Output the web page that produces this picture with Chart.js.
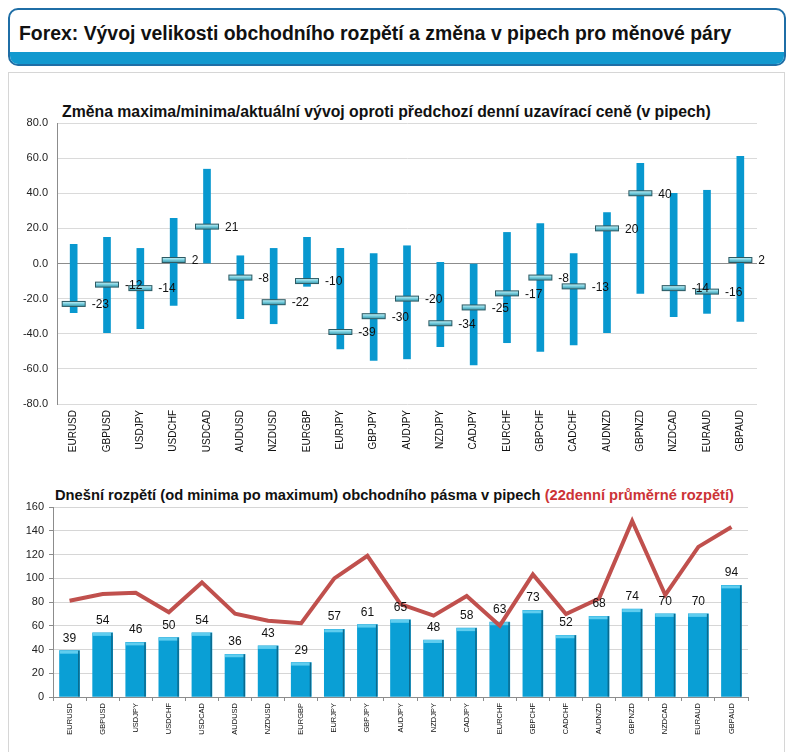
<!DOCTYPE html>
<html>
<head>
<meta charset="utf-8">
<script src="https://cdn.jsdelivr.net/npm/chart.js@4.4.1/dist/chart.umd.min.js"></script>
<style>
  body { margin: 0; width: 790px; height: 752px; background: #fff; position: relative; overflow: hidden; font-family: 'Liberation Sans', Arial, sans-serif; }
  #header { position: absolute; left: 8px; top: 8px; width: 774px; height: 54px; border: 2px solid #1f6ea6; border-radius: 10px; overflow: hidden; background: #fff; }
  #header .strip { position: absolute; left: 0; right: 0; bottom: 0; height: 12px; background: #1299cf; }
  #header h1 { position: absolute; left: 9px; top: 12px; margin: 0; font-size: 19.4px; font-weight: bold; color: #111; white-space: nowrap; }
  #panel { position: absolute; left: 8px; top: 72px; width: 775px; height: 700px; border: 1px solid #d6d6d6; border-bottom: none; }
  .title { position: absolute; font-weight: bold; color: #111; white-space: nowrap; }
  #t1 { left: 62px; top: 103px; font-size: 15.8px; }
  #t2 { left: 55px; top: 487px; font-size: 14.7px; }
  #t2 span { color: #cc3336; }
  canvas { position: absolute; left: 0; }
  #c1 { top: 100px; }
  #c2 { top: 480px; }
</style>
</head>
<body>
<div id="header"><h1>Forex: Vývoj velikosti obchodního rozpětí a změna v pipech pro měnové páry</h1><div class="strip"></div></div>
<div id="panel"></div>
<div class="title" id="t1">Změna maxima/minima/aktuální vývoj oproti předchozí denní uzavírací ceně (v pipech)</div>
<div class="title" id="t2">Dnešní rozpětí (od minima po maximum) obchodního pásma v pipech <span>(22denní průměrné rozpětí)</span></div>
<canvas id="c1" width="790" height="370"></canvas>
<canvas id="c2" width="790" height="272"></canvas>
<script>
// currency pairs
const pairs = ['EURUSD', 'GBPUSD', 'USDJPY', 'USDCHF', 'USDCAD', 'AUDUSD', 'NZDUSD', 'EURGBP', 'EURJPY', 'GBPJPY', 'AUDJPY',
    'NZDJPY', 'CADJPY', 'EURCHF', 'GBPCHF', 'CADCHF', 'AUDNZD', 'GBPNZD', 'NZDCAD', 'EURAUD', 'GBPAUD'];

// top chart: high / low / current vs previous close (pips)
const highs = [10.9, 14.9, 8.6, 25.7, 53.7, 4.4, 8.6, 14.9, 8.6, 5.7, 10.1, 0.6, 0, 17.7, 22.7, 5.7, 29, 57.1, 40, 41.7, 61];
const lows = [-28, -39.4, -37.1, -23.8, 0, -31.4, -34.3, -13, -48.6, -55.2, -54.3, -47.4, -57.7, -45.1, -50.1, -46.3, -39.4, -17, -30.3, -28.4, -33];
const current = [-23, -12, -14, 2, 21, -8, -22, -10, -39, -30, -20, -34, -25, -17, -8, -13, 20, 40, -14, -16, 2];
const topTicks = [-80, -60, -40, -20, 0, 20, 40, 60, 80];

// bottom chart: today's range and 22-day average range
const todayRange = [39, 54, 46, 50, 54, 36, 43, 29, 57, 61, 65, 48, 58, 63, 73, 52, 68, 74, 70, 70, 94];
const avgRange = [81, 86.7, 87.8, 71.3, 96.5, 70.2, 64.3, 62.1, 99.9, 118.9, 78.3, 68.5, 85, 60.1, 103.2, 69.9, 83, 148.3, 85.9, 126.4, 143.2];
const bottomTicks = [0, 20, 40, 60, 80, 100, 120, 140, 160];

const FONT = "'Liberation Sans', Arial, sans-serif";

// marker image for the current value
function makeMarker() {
    const c = document.createElement('canvas');
    c.width = 26; c.height = 8;
    const g = c.getContext('2d');
    const grad = g.createLinearGradient(0, 1, 0, 7);
    grad.addColorStop(0, '#e2f8fb');
    grad.addColorStop(0.45, '#7dd3e3');
    grad.addColorStop(1, '#2b8aa0');
    g.fillStyle = grad;
    g.fillRect(1, 1, 24, 6);
    g.strokeStyle = '#2d5a63';
    g.lineWidth = 1;
    g.strokeRect(1.5, 1.5, 23, 5);
    return c;
}

const closeLabels = {
    id: 'closeLabels',
    afterDatasetsDraw(chart) {
        const meta = chart.getDatasetMeta(1);
        const ctx = chart.ctx;
        ctx.save();
        ctx.font = '12px ' + FONT;
        ctx.fillStyle = '#111';
        ctx.textBaseline = 'middle';
        meta.data.forEach((pt, i) => {
            ctx.fillText(String(current[i]), pt.x + 18, pt.y + 1);
        });
        ctx.restore();
    }
};

new Chart(document.getElementById('c1'), {
    type: 'bar',
    data: {
        labels: pairs,
        datasets: [{
            data: lows.map((lo, i) => [lo, highs[i]]),
            backgroundColor: '#0898cf',
            barThickness: 7,
            order: 2
        }, {
            type: 'line',
            data: current,
            showLine: false,
            pointStyle: makeMarker(),
            pointRadius: 10,
            order: 1
        }]
    },
    options: {
        responsive: false,
        animation: false,
        layout: { padding: { top: 23, right: 33, left: 0, bottom: 0 } },
        plugins: { legend: { display: false }, tooltip: { enabled: false } },
        scales: {
            x: {
                grid: { display: false, drawTicks: false },
                border: { display: false },
                ticks: { autoSkip: false, minRotation: 90, maxRotation: 90, padding: 6, color: '#111', font: { size: 10, family: FONT } },
                afterFit: (s) => { s.height = 66; }
            },
            y: {
                min: -80, max: 80,
                afterBuildTicks: (s) => { s.ticks = topTicks.map(v => ({ value: v })); },
                grid: { color: (c) => c.tick && c.tick.value === 0 ? '#8c8c8c' : '#dadada', drawTicks: false },
                border: { color: '#8c8c8c' },
                ticks: { padding: 9, color: '#222', font: { size: 11, family: FONT }, callback: (v) => Number(v).toFixed(1) },
                afterFit: (s) => { s.width = 57; }
            }
        }
    },
    plugins: [closeLabels]
});

const barLabels = {
    id: 'barLabels',
    afterDatasetDraw(chart, args) {
        if (args.index !== 0) return;
        const meta = chart.getDatasetMeta(0);
        const ctx = chart.ctx;
        ctx.save();
        meta.data.forEach((bar) => {
            const w = bar.width;
            ctx.fillStyle = '#5fcdef';
            ctx.fillRect(bar.x - w / 2, bar.y, w, 3);
            ctx.fillStyle = '#0b6a8e';
            ctx.fillRect(bar.x + w / 2 - 1.5, bar.y, 1.5, bar.base - bar.y);
        });
        ctx.restore();
    },
    afterDraw(chart) {
        const meta = chart.getDatasetMeta(0);
        const ctx = chart.ctx;
        ctx.save();
        ctx.font = '12px ' + FONT;
        ctx.fillStyle = '#111';
        ctx.textAlign = 'center';
        meta.data.forEach((bar, i) => {
            ctx.fillText(String(todayRange[i]), bar.x, bar.y - 9);
        });
        ctx.restore();
    }
};

new Chart(document.getElementById('c2'), {
    type: 'bar',
    data: {
        labels: pairs,
        datasets: [{
            data: todayRange,
            backgroundColor: '#0a9fd5',
            barThickness: 20,
            order: 2
        }, {
            type: 'line',
            data: avgRange,
            borderColor: '#c0504d',
            borderWidth: 4,
            pointRadius: 0,
            tension: 0,
            order: 1
        }]
    },
    options: {
        responsive: false,
        animation: false,
        layout: { padding: { top: 27, right: 42, left: 0, bottom: 0 } },
        plugins: { legend: { display: false }, tooltip: { enabled: false } },
        scales: {
            x: {
                grid: { display: true, offset: true, drawOnChartArea: false, tickLength: 4, color: '#8c8c8c' },
                border: { color: '#8c8c8c' },
                ticks: { autoSkip: false, minRotation: 90, maxRotation: 90, padding: 2, color: '#111', font: { size: 7.5, family: FONT } },
                afterFit: (s) => { s.height = 55; }
            },
            y: {
                min: 0, max: 160,
                afterBuildTicks: (s) => { s.ticks = bottomTicks.map(v => ({ value: v })); },
                grid: { color: '#d6d6d6', tickLength: 4, tickColor: '#8c8c8c' },
                border: { color: '#8c8c8c' },
                ticks: { padding: 5, color: '#222', font: { size: 11, family: FONT } },
                afterFit: (s) => { s.width = 53; }
            }
        }
    },
    plugins: [barLabels]
});
</script>
</body>
</html>
